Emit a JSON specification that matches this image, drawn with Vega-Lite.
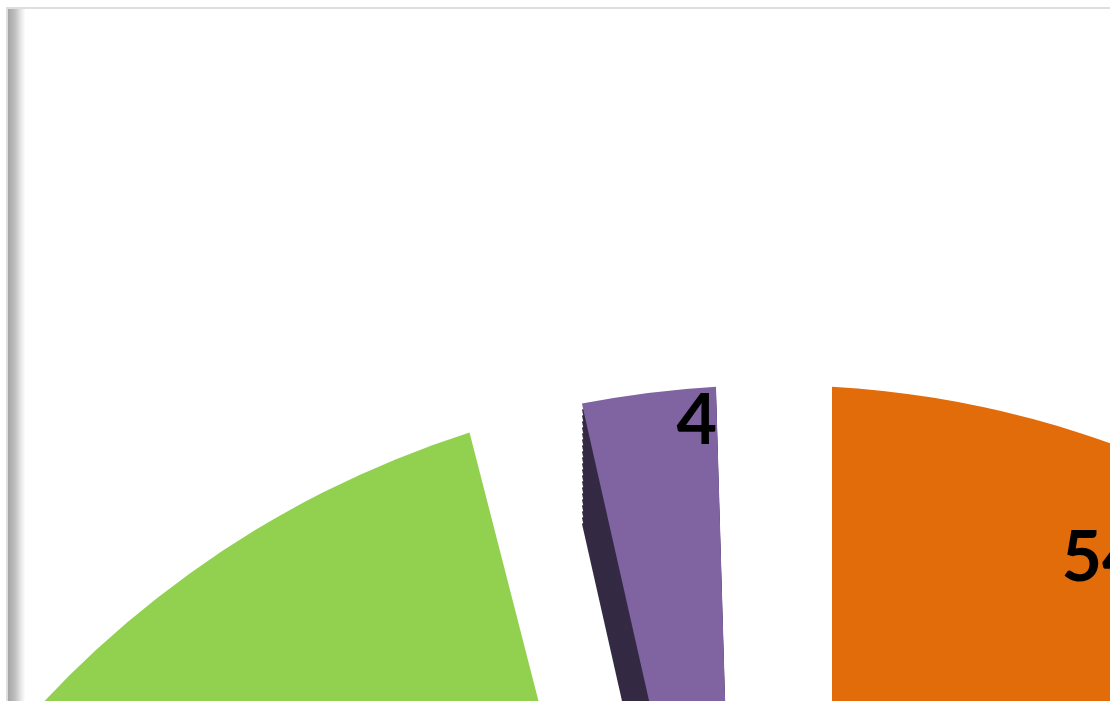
{
  "$schema": "https://vega.github.io/schema/vega-lite/v6.json",
  "autosize": "none",
  "padding": {"left": 7, "top": 8, "right": 0, "bottom": 0},
  "width": 1534,
  "height": 2754,
  "background": "#ffffff",
  "config": {"view": {"stroke": null}},
  "data": {
    "values": [
      {"cat": "A", "value": 54},
      {"cat": "B", "value": 42},
      {"cat": "C", "value": 4}
    ]
  },
  "layer": [
    {
      "data": {"values": [{"frame": 1}]},
      "mark": {
        "type": "rect",
        "stroke": "#dedede",
        "strokeWidth": 2,
        "fill": {
          "gradient": "linear",
          "x1": 0, "y1": 0, "x2": 1, "y2": 0,
          "stops": [
            {"offset": 0, "color": "#a2a2a2"},
            {"offset": 0.005, "color": "#bdbdbd"},
            {"offset": 0.009, "color": "#e6e6e6"},
            {"offset": 0.012, "color": "#ffffff"},
            {"offset": 1, "color": "#ffffff"}
          ]
        }
      },
      "encoding": {}
    },
    {
      "encoding": {
        "theta": {"field": "value", "type": "quantitative", "stack": true},
        "order": {"field": "cat", "type": "ordinal", "sort": "ascending"},
        "color": {
          "field": "cat", "type": "nominal", "legend": null,
          "scale": {"domain": ["A", "B", "C"], "range": ["#5a2c05", "#4e7526", "#342a44"]}
        }
      },
      "layer": [
        {"mark": {"type": "arc", "outerRadius": 1000, "innerRadius": 300, "padAngle": 0.1112, "yOffset": 120}},
        {"mark": {"type": "arc", "outerRadius": 1000, "innerRadius": 300, "padAngle": 0.1112, "yOffset": 114}},
        {"mark": {"type": "arc", "outerRadius": 1000, "innerRadius": 300, "padAngle": 0.1112, "yOffset": 108}},
        {"mark": {"type": "arc", "outerRadius": 1000, "innerRadius": 300, "padAngle": 0.1112, "yOffset": 102}},
        {"mark": {"type": "arc", "outerRadius": 1000, "innerRadius": 300, "padAngle": 0.1112, "yOffset": 96}},
        {"mark": {"type": "arc", "outerRadius": 1000, "innerRadius": 300, "padAngle": 0.1112, "yOffset": 90}},
        {"mark": {"type": "arc", "outerRadius": 1000, "innerRadius": 300, "padAngle": 0.1112, "yOffset": 84}},
        {"mark": {"type": "arc", "outerRadius": 1000, "innerRadius": 300, "padAngle": 0.1112, "yOffset": 78}},
        {"mark": {"type": "arc", "outerRadius": 1000, "innerRadius": 300, "padAngle": 0.1112, "yOffset": 72}},
        {"mark": {"type": "arc", "outerRadius": 1000, "innerRadius": 300, "padAngle": 0.1112, "yOffset": 66}},
        {"mark": {"type": "arc", "outerRadius": 1000, "innerRadius": 300, "padAngle": 0.1112, "yOffset": 60}},
        {"mark": {"type": "arc", "outerRadius": 1000, "innerRadius": 300, "padAngle": 0.1112, "yOffset": 54}},
        {"mark": {"type": "arc", "outerRadius": 1000, "innerRadius": 300, "padAngle": 0.1112, "yOffset": 48}},
        {"mark": {"type": "arc", "outerRadius": 1000, "innerRadius": 300, "padAngle": 0.1112, "yOffset": 42}},
        {"mark": {"type": "arc", "outerRadius": 1000, "innerRadius": 300, "padAngle": 0.1112, "yOffset": 36}},
        {"mark": {"type": "arc", "outerRadius": 1000, "innerRadius": 300, "padAngle": 0.1112, "yOffset": 30}},
        {"mark": {"type": "arc", "outerRadius": 1000, "innerRadius": 300, "padAngle": 0.1112, "yOffset": 24}},
        {"mark": {"type": "arc", "outerRadius": 1000, "innerRadius": 300, "padAngle": 0.1112, "yOffset": 18}},
        {"mark": {"type": "arc", "outerRadius": 1000, "innerRadius": 300, "padAngle": 0.1112, "yOffset": 12}},
        {"mark": {"type": "arc", "outerRadius": 1000, "innerRadius": 300, "padAngle": 0.1112, "yOffset": 6}}
      ]
    },
    {
      "mark": {"type": "arc", "outerRadius": 1000, "innerRadius": 300, "padAngle": 0.1112},
      "encoding": {
        "theta": {"field": "value", "type": "quantitative", "stack": true},
        "order": {"field": "cat", "type": "ordinal", "sort": "ascending"},
        "color": {
          "field": "cat", "type": "nominal", "legend": null,
          "scale": {"domain": ["A", "B", "C"], "range": ["#e26b0a", "#92d050", "#8064a2"]}
        }
      }
    },
    {
      "mark": {"type": "text", "radius": 888, "thetaOffset": -1.318, "font": "Lato", "fontWeight": "bold", "fontSize": 70, "color": "#000000"},
      "encoding": {
        "theta": {"field": "value", "type": "quantitative", "stack": true},
        "order": {"field": "cat", "type": "ordinal", "sort": "ascending"},
        "detail": {"field": "cat", "type": "nominal"},
        "text": {"condition": {"test": "datum.cat === 'A'", "field": "value", "type": "quantitative"}, "value": ""}
      }
    },
    {
      "mark": {"type": "text", "radius": 965, "thetaOffset": 0.0457, "font": "Lato", "fontWeight": "bold", "fontSize": 70, "color": "#000000"},
      "encoding": {
        "theta": {"field": "value", "type": "quantitative", "stack": true},
        "order": {"field": "cat", "type": "ordinal", "sort": "ascending"},
        "detail": {"field": "cat", "type": "nominal"},
        "text": {"condition": {"test": "datum.cat === 'C'", "field": "value", "type": "quantitative"}, "value": ""}
      }
    }
  ],
  "resolve": {"scale": {"color": "independent"}}
}
